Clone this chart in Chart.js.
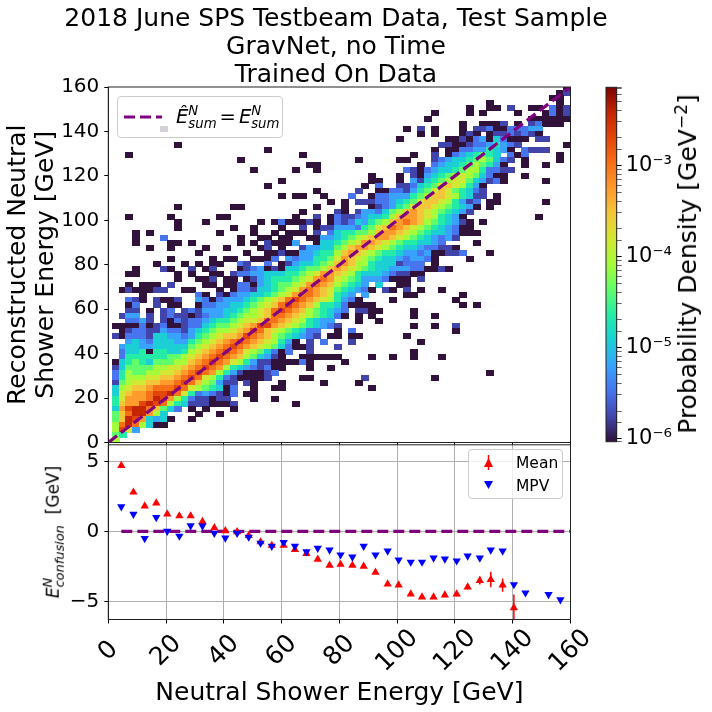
<!DOCTYPE html>
<html>
<head>
<meta charset="utf-8">
<script src="https://cdn.jsdelivr.net/npm/chart.js@4"></script>
<style>
html,body{margin:0;padding:0;background:#fff;width:712px;height:712px;overflow:hidden;font-family:"DejaVu Sans";color:#000}
canvas{position:absolute}
.ov{position:absolute;white-space:nowrap}
.stack{display:inline-block;vertical-align:middle;line-height:.95;font-size:.68em;text-align:left}
.stack span{display:block}
.box{position:absolute;background:rgba(255,255,255,.8);border:1px solid #ccc;border-radius:4px;box-sizing:border-box}
</style>
</head>
<body>
<div style="position:absolute;left:0;top:0;width:672px;height:452px"><canvas id="main"></canvas></div>
<div style="position:absolute;left:0;top:440px;width:712px;height:272px"><canvas id="lower"></canvas></div>
<div style="position:absolute;left:595px;top:0;width:117px;height:446px"><canvas id="cbar"></canvas></div>

<div class="box" style="left:117px;top:96px;width:166px;height:42px"></div>
<svg class="ov" style="left:124px;top:112px" width="38" height="10"><line x1="0" y1="5" x2="38" y2="5" stroke="#800080" stroke-width="3" stroke-dasharray="11,5"/></svg>
<div class="ov" style="left:176px;top:104px;font-size:19.5px;line-height:26px;font-style:italic">Ê<span class="stack"><span>N</span><span>sum</span></span><span style="font-style:normal;margin:0 3px">=</span>E<span class="stack"><span>N</span><span>sum</span></span></div>

<div class="box" style="left:468px;top:449px;width:95px;height:50px"></div>
<svg class="ov" style="left:480px;top:454px" width="18" height="40">
  <line x1="8.5" y1="1" x2="8.5" y2="16" stroke="#f00" stroke-width="1.5"/>
  <polygon points="8.5,4 13,13 4,13" fill="#f00"/>
  <polygon points="8.5,35 13,27 4,27" fill="#00f"/>
</svg>
<div class="ov" style="left:516px;top:452px;font-size:15.5px;line-height:23px">Mean<br>MPV</div>

<div class="ov" style="left:54px;top:532px;transform:translate(-50%,-50%) rotate(-90deg);font-size:17px;line-height:22px"><i>E</i><span class="stack" style="font-size:.76em"><span><i>N</i></span><span><i>confusion</i></span></span>&nbsp; [GeV]</div>
<div class="ov" style="left:688px;top:264px;transform:translate(-50%,-50%) rotate(-90deg);font-size:25px;line-height:30px">Probability Density [GeV<sup style="font-size:17px;line-height:0">−2</sup>]</div>

<script>
// ----- Reference values -----
const titleLines = ["2018 June SPS Testbeam Data, Test Sample", "GravNet, no Time", "Trained On Data"];
const yTitleLines = ["Reconstructed Neutral", "Shower Energy [GeV]"];
const xTitleText = "Neutral Shower Energy [GeV]";
const xTickValues = [0, 20, 40, 60, 80, 100, 120, 140, 160];
const cbarMajorTicks = {"0.001": "10⁻³", "0.0001": "10⁻⁴", "0.00001": "10⁻⁵", "0.000001": "10⁻⁶"};

// colour of each density level a..o (low to high)
const levelNames = "abcdefghijklmno";
const levelColors = ["#30123b","#4145ab","#4675ed","#39a2fc","#1bcfd4","#24eca6","#61fc6c","#a4fc3b","#d1e834","#f3c63a","#fe9b2d","#f67018","#e4460a","#c42503","#7a0402"];

// 2D histogram, read row by row from top (row 68) to bottom (row 0): "firstColumn:levels"
const densityRows = [
"65:a",
"64:ab",
"63:aa",
"54:a 64:a",
"51:a 54:aa 57:b 60:aa 63:cab",
"46:a 51:a 53:a 58:a 62:acab",
"45:a 60:aaaaaa",
"50:a 53:aaab 58:a 60:bcaaa",
"7:a 42:a 44:b 46:a 50:a 52:bbcaacccdd",
"44:a 46:a 50:ab 52:a 54:abbcbcba",
"41:a 48:aabacdaecaaa 61:bb",
"9:a 47:bbaabccdfdcb 65:a",
"22:a 46:a 48:aaccddfeda 59:cbbb",
"2:a 27:a 43:a 46:b 48:acdefgfe 57:cac 64:a",
"18:a 35:a 41:aa 46:bcdeefghgecb 59:a 64:a",
"28:aa 44:a 46:cdeefghgfda 59:a 62:a",
"20:a 26:a 29:a 42:cbacdeefghhfccbb",
"37:a 41:a 43:badefghihgecaa 59:a",
"24:a 37:aa 41:a 43:dbefghiigedbca 62:a",
"22:a 36:a 38:c 41:bbcefgijihfda",
"29:a 35:b 38:aaccbdfgijigfecb",
"24:a 26:aa 30:a 34:c 37:accdddfghjjihfebb 55:a",
"31:a 33:a 35:bbbccdefgijjihfdbc 54:aa 62:a",
"9:a 17:aa 29:a 33:a 37:abcdfgijjihgfed 52:a 54:a",
"27:a 32:ba 35:bddceghjkjihgfedb",
"2:a 8:a 15:aa 26:a 29:b 31:a 32:cbbcdeefhjkkjihfeda 61:a",
"9:a 13:a 21:a 23:acaaaba 31:acbcedfghjklkjhgfedba 53:a",
"9:a 17:a 20:a 24:a 27:b 29:abb 32:dddcfgijlkjihgfedcaa",
"3:a 5:a 15:a 20:a 23:a 25:aaa 29:b 31:c 32:effgghjkkjihgfeedcaaa",
"3:a 7:c 18:a 21:aa 24:aa 28:aadd 32:efghijkkjihgfedcdb",
"3:a 8:aa 11:a 18:a 20:a 22:baaad 29:aee 32:fghikkjihgffeedc 52:a",
"5:a 8:a 13:a 16:a 21:ab 24:a 27:bddee 32:ghjkkjihgfeedccbba",
"12:a 19:a 22:aabaaddeff 32:hjkjihgffeddcdaabbc 54:a",
"8:a 14:a 16:aa 20:aaac 25:dcddffg 32:ikjihgfeedcddca 51:a",
"6:a 10:a 12:a 14:aa 18:cb 22:c 24:abdeefgh 32:jkjhhfeeebccc 46:a",
"3:a 7:ba 11:b 13:ab 18:abcdabaeefgghj 32:kjihgfeedddccaaba",
"2:aa 9:a 11:a 14:aa 17:bccddeeeffghikk 32:jihfeeedcbbaa",
"9:a 12:aa 14:b 16:aa 19:abdefffghiklk 32:ihgfdddcaaa 44:b",
"2:a 4:aaa 8:b 13:aa 16:aa 18:ccadefgghiklkj 32:hgfed 38:e 41:aa",
"1:abaaabb 10:aa 15:a 17:accbeefghiklkji 32:gfedca 39:ba 42:b 44:a 47:a",
"4:a 12:ca 15:bacddeefghikllkji 32:fed 36:d 42:aa 50:a",
"2:cba 6:baab 12:dcacdddefghijlmlkjih 32:fdca 40:a 49:a",
"2:ac 6:b 8:aa 12:accddeefghijlmlkjhff 32:ecaaaa 50:a 52:a",
"2:bb 5:a 7:bc 10:bcbdddeefghijlmlkjhgfe 32:dc 35:bbaa 43:a",
"1:bdd 5:b 7:bcbbabcddefghhijllkjihgfe 32:ca 35:a 37:a 43:a 46:a",
"2:ccdb 7:bacbccdeffghiijllkjihfedd 35:a 38:a",
"0:aaaacabcaabccefgghijkmmkjihgfedcb 43:a 46:a 49:b",
"1:abccbbdccbdefghhijkmljihgfecc 32:a 34:c 49:a",
"0:bacccbeeddcdfghijjkmlkjhgfedcb 31:aa 34:aa 42:a",
"2:dedceeeddfghijklmlkjihfda 28:b 30:c 34:b 44:a",
"1:deeddeeeeeghijklmlkjihgecaab 32:b",
"1:ceefaffeefhijklmlkihgecac 28:b 43:a",
"1:cffffffgghijklmlkjhgedba 27:aaaaaa 37:a 40:a 43:a 47:a",
"0:aefgfeggghhjklmlkihfdbbaaaaca 33:a",
"0:begggghhiijklmlkhfedcbcaa 28:a 31:a",
"0:cfhgghhiijklmlkhfdbaaabc 54:a",
"0:cfhhhiijjklmlihfcbaaaab 27:aa 36:b 46:a",
"0:bghiijjkklmljhgdbb 19:ba 24:a 30:a 35:a",
"0:ehijjklllmlihgfeac 20:a 23:aa 37:a",
"0:eijkklmmnlifcdcbac 19:aa",
"0:fikkklnmkhfcbbabb 20:a 23:a",
"0:fjkkmnmlhfebbbaaab 26:a",
"0:ekmnnljgec 11:a 13:a 17:a",
"0:gjlnnkhe 12:a 15:a",
"0:gjnmkede 8:a 11:a",
"0:hlnlheaa",
"0:hmid",
"0:gf",
"0:h"
];

const meanX = [4.5,8.7,12.6,16.6,20.4,24.6,28.5,32.6,36.7,40.5,44.6,48.6,52.7,56.6,60.7,64.6,68.6,72.5,76.6,80.4,84.5,88.4,92.5,96.7,100.5,104.7,108.6,112.6,116.5,120.6,124.4,128.6,132.4,136.5,140.4];
const meanY = [4.72,2.81,1.82,2.03,1.25,1.11,1.11,0.71,0.26,0.05,-0.02,-0.30,-0.75,-1.0,-1.0,-1.3,-1.58,-2.0,-2.43,-2.36,-2.43,-2.5,-2.92,-3.77,-3.84,-4.48,-4.69,-4.69,-4.55,-4.48,-3.98,-3.51,-3.44,-3.84,-5.47];
const meanErr = [0.05,0.05,0.05,0.05,0.05,0.05,0.05,0.05,0.05,0.05,0.05,0.05,0.05,0.05,0.05,0.05,0.05,0.06,0.08,0.08,0.08,0.08,0.1,0.1,0.1,0.12,0.12,0.14,0.16,0.18,0.2,0.28,0.55,0.47,0.95];
const mpvX = [4.5,8.7,12.6,16.6,20.4,24.6,28.5,32.6,36.7,40.5,44.6,48.6,52.7,56.6,60.7,64.6,68.6,72.5,76.6,80.4,84.5,88.4,92.5,96.7,100.5,104.7,108.6,112.6,116.5,120.6,124.4,128.6,132.4,136.5,140.4,144.4,152.4,156.5];
const mpvY = [1.77,1.23,-0.5,1.0,0.02,-0.33,0.42,0.4,-0.12,-0.47,-0.12,-0.4,-0.83,-1.06,-0.78,-1.06,-1.44,-1.2,-1.32,-1.67,-1.82,-1.06,-1.67,-1.39,-2.03,-2.19,-2.19,-1.89,-1.96,-2.1,-1.75,-1.89,-1.32,-1.39,-3.8,-4.39,-4.5,-4.88];
const zeroLineX = [4.5, 160];

// ----- Histogram bin geometry -----
const binCentreX = c => 2.52 + 2.403 * c;
const binCentreY = r => 1.02 + 2.335 * r;

Chart.defaults.font.family = '"DejaVu Sans"';
Chart.defaults.color = '#000';
Chart.defaults.animation = false;
Chart.defaults.responsive = false;

const noOverflow = s => {s.paddingTop=0;s.paddingBottom=0;s.paddingLeft=0;s.paddingRight=0;};

const frame = {id:'frame', afterDraw(ch){
  const a = ch.chartArea, g = ch.ctx;
  g.save(); g.strokeStyle = '#222'; g.lineWidth = 1;
  g.strokeRect(a.left, a.top, a.right-a.left, a.bottom-a.top);
  g.restore();
}};

// cells
const cellSprites = levelColors.map(col => {
  const cv = document.createElement('canvas'); cv.width = 8; cv.height = 6;
  const g = cv.getContext('2d'); g.fillStyle = col; g.fillRect(0,0,8,6);
  return cv;
});
const cells = [];
densityRows.forEach((line, i) => {
  const r = densityRows.length - 1 - i;
  line.split(' ').forEach(tok => {
    const [start, levels] = tok.split(':');
    [...levels].forEach((ch, k) => cells.push({x: binCentreX(+start + k), y: binCentreY(r), level: levelNames.indexOf(ch)}));
  });
});

function size(id, w, h){const c=document.getElementById(id);c.width=w;c.height=h;c.style.width=w+'px';c.style.height=h+'px';return c;}

new Chart(size('main',672,452), {
  type:'scatter',
  data:{datasets:[
    {data:[{x:0,y:0},{x:160,y:160}], showLine:true, pointRadius:0, borderColor:'#800080', borderWidth:3.2, borderDash:[11,5], order:0},
    {data:cells, pointRadius:4, pointStyle:c=>cellSprites[c.raw.level], showLine:false, order:1}
  ]},
  plugins:[frame],
  options:{
    events:[],
    plugins:{legend:{display:false},tooltip:{enabled:false},
      title:{display:true,text:titleLines,font:{size:25,weight:'normal',lineHeight:1.12},color:'#000',padding:{top:5,bottom:-2}}},
    scales:{
      x:{type:'linear',min:0,max:160,ticks:{display:false,stepSize:20,includeBounds:false},
         grid:{drawOnChartArea:false,tickLength:4,tickColor:'#000'},border:{color:'#222'},
         afterFit(s){s.height=9.5;noOverflow(s);}},
      y:{type:'linear',min:0,max:160,ticks:{stepSize:20,font:{size:20},color:'#000',padding:5},
         grid:{drawOnChartArea:false,tickLength:4,tickColor:'#000'},border:{color:'#222'},
         title:{display:true,text:yTitleLines,font:{size:25,lineHeight:1.12},color:'#000',padding:{top:4,bottom:0}},
         afterFit(s){s.width=108.3;noOverflow(s);}},
      rightGap:{type:'linear',position:'right',min:0,max:1,
         ticks:{display:false},grid:{display:false},border:{display:false},
         afterFit(s){s.width=101.5;noOverflow(s);}}
    }
  }
});

const errorSets = meanX.map((x,i)=>({data:[{x,y:meanY[i]-meanErr[i]},{x,y:meanY[i]+meanErr[i]}],showLine:true,pointRadius:0,borderColor:'#ff0000',borderWidth:1.5,order:2}));

const padded = {0:'\u00a0\u00a00\u00a0\u00a0',20:'\u00a020\u00a0',40:'\u00a040\u00a0',60:'\u00a060\u00a0',80:'\u00a080\u00a0'};
new Chart(size('lower',712,272), {
  type:'scatter',
  data:{datasets:[
    {label:'MPV',data:mpvX.map((x,i)=>({x,y:mpvY[i]})),pointStyle:'triangle',pointRotation:180,pointRadius:4.8,backgroundColor:'#0000ff',borderColor:'#0000ff',borderWidth:0,order:0},
    {label:'Mean',data:meanX.map((x,i)=>({x,y:meanY[i]})),pointStyle:'triangle',pointRadius:4.8,backgroundColor:'#ff0000',borderColor:'#ff0000',borderWidth:0,order:1},
    ...errorSets,
    {data:zeroLineX.map(x=>({x,y:0})),showLine:true,pointRadius:0,borderColor:'#800080',borderWidth:3.2,borderDash:[11,5],order:3}
  ]},
  plugins:[frame],
  options:{
    events:[],
    layout:{padding:{left:0,right:141.5,top:2.5,bottom:0}},
    plugins:{legend:{display:false},tooltip:{enabled:false}},
    scales:{
      x:{type:'linear',min:0,max:160,
         afterBuildTicks(s){s.ticks=xTickValues.map(v=>({value:v}));},
         ticks:{minRotation:45,maxRotation:45,autoSkip:false,font:{size:25},color:'#000',padding:0,labelOffset:17,
                callback:v=>padded[v]||String(v)},
         grid:{color:'#b0b0b0',lineWidth:1,tickLength:4,tickColor:'#000'},border:{color:'#222'},
         title:{display:true,text:xTitleText,font:{size:25},color:'#000',padding:{top:0,bottom:4}},
         afterFit(s){s.height=92.5;noOverflow(s);}},
      y:{type:'linear',min:-6.3,max:6.2,
         ticks:{stepSize:5,includeBounds:false,font:{size:20},color:'#000',padding:5,callback:v=>String(v).replace('-','−')},
         grid:{color:'#b0b0b0',lineWidth:1,tickLength:4,tickColor:'#000'},border:{color:'#222'},
         afterFit(s){s.width=108.3;noOverflow(s);}}
    }
  }
});

new Chart(size('cbar',117,446), {
  type:'bar',
  data:{labels:['density'],datasets:[{data:[[9.2e-7,7.2e-3]],barPercentage:1,categoryPercentage:1,
    backgroundColor(c){
      const a=c.chart.chartArea; if(!a) return '#000';
      const g=c.chart.ctx.createLinearGradient(0,a.bottom,0,a.top);
      levelColors.forEach((col,i)=>g.addColorStop(i/14,col));
      return g;
    }}]},
  plugins:[frame],
  options:{
    events:[],
    layout:{padding:{left:11,right:0,top:87.3,bottom:4.3}},
    plugins:{legend:{display:false},tooltip:{enabled:false}},
    scales:{
      x:{display:false},
      y:{type:'logarithmic',position:'right',min:9.2e-7,max:7.2e-3,
         ticks:{autoSkip:false,font:{size:21},color:'#000',padding:4,
           callback(v){for(const k in cbarMajorTicks){if(Math.abs(v/+k-1)<1e-6)return cbarMajorTicks[k];}return '';}},
         grid:{drawOnChartArea:false,tickLength:5,tickColor:'#000',
           tickWidth(c){const t=c.tick; if(!t) return 1; const l=Math.log10(t.value); return Math.abs(l-Math.round(l))<1e-6?1:0.6;}},
         border:{color:'#222'},
         afterFit(s){s.width=95.3;noOverflow(s);}}
    }
  }
});
</script>
</body>
</html>
